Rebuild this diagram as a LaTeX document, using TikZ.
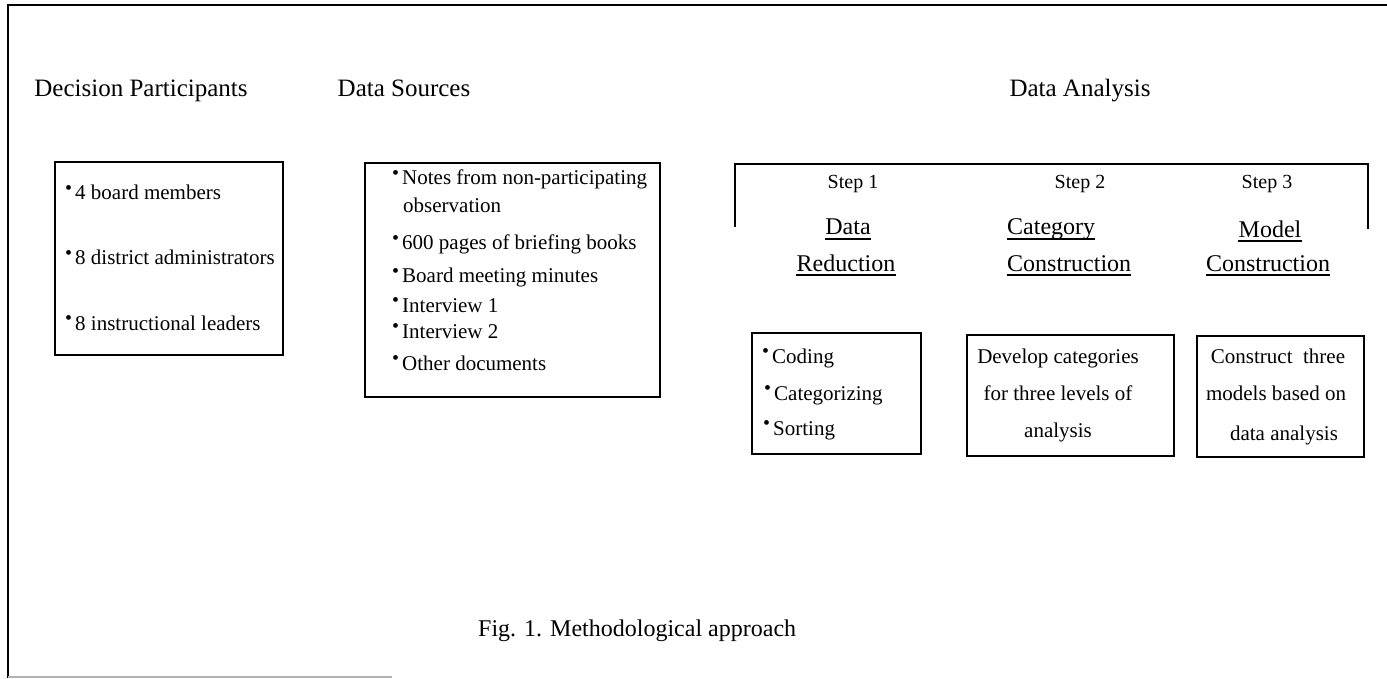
\documentclass[tikz,border=0pt]{standalone}
\usepackage{fontspec}
\setmainfont{Liberation Serif}
\newcommand{\headfont}{\fontsize{25}{30}\selectfont}
\newcommand{\itemfont}{\fontsize{21}{25}\selectfont}
\newcommand{\stepfont}{\fontsize{20}{24}\selectfont}
\newcommand{\titlefont}{\fontsize{24}{28}\selectfont}
\newcommand{\capfont}{\fontsize{24}{28}\selectfont}
\newcommand{\bul}{\raisebox{0.28em}{\scalebox{0.95}{\textbullet}}\hspace{3pt}}
\tikzset{
  frame/.style={line width=1.6pt, line cap=rect},
  panel/.style={draw, line width=1.5pt, inner sep=0, minimum width=#1},
  panel/.default=100pt,
  txt/.style={inner sep=0, font=\itemfont, anchor=base west},
  ctxt/.style={inner sep=0, font=\itemfont, anchor=base},
  head/.style={inner sep=0, font=\headfont, anchor=base},
  steplbl/.style={inner sep=0, font=\stepfont, anchor=base},
  title/.style={inner sep=0, font=\titlefont, anchor=base},
  uline/.style={line width=1.4pt},
}
\begin{document}
\begin{tikzpicture}[x=1pt, y=-1pt]
\useasboundingbox (0,0) rectangle (1387,679);
\fill[white] (0,0) rectangle (1387,679);

% page frame
\coordinate (ftr) at (1387,5);
\coordinate (ftl) at (8,5);
\coordinate (fbl) at (8,677);
\coordinate (fbr) at (392,677);
\draw[frame] (ftr) -- (ftl) -- (fbl);
\draw[gray!60, line width=1.2pt] (fbl) -- (fbr);

% column headings
\node[head] (hdp) at (141,97) {Decision Participants};
\node[head] (hds) at (404,97) {Data Sources};
\node[head] (hda) at (1080,97) {Data Analysis};

% participants
\node[panel=228pt, minimum height=193pt] (bdp) at (169,258.5) {};
\node[txt] (p1) at (65,200) {\bul 4 board members};
\node[txt] (p2) at (65,265) {\bul 8 district administrators};
\node[txt] (p3) at (65,330) {\bul 8 instructional leaders};

% sources
\node[panel=295pt, minimum height=234pt] (bds) at (512.5,280) {};
\node[txt] (s1) at (392,185) {\bul Notes from non-participating};
\node[txt] (s1b) at (403,213) {observation};
\node[txt] (s2) at (392,250) {\bul 600 pages of briefing books};
\node[txt] (s3) at (392,283) {\bul Board meeting minutes};
\node[txt] (s4) at (392,312) {\bul Interview 1};
\node[txt] (s5) at (392,338) {\bul Interview 2};
\node[txt] (s6) at (392,370) {\bul Other documents};

% analysis bracket
\coordinate (bl) at (735,226);
\coordinate (tl) at (735,164);
\coordinate (tr) at (1368,164);
\coordinate (br) at (1368,228);
\draw[frame] (bl) -- (tl) -- (tr) -- (br);

\node[steplbl] (st1) at (853,189) {Step 1};
\node[steplbl] (st2) at (1080,189) {Step 2};
\node[steplbl] (st3) at (1267,189) {Step 3};

\node[title] (t1a) at (848,235) {Data};
\node[title] (t1b) at (846,271) {Reduction};
\node[title, anchor=base west] (t2a) at (1007,235) {Category};
\node[title, anchor=base west] (t2b) at (1007,271) {Construction};
\node[title] (t3a) at (1270,237) {Model};
\node[title] (t3b) at (1268,271) {Construction};
\foreach \t in {t1a,t1b,t2a,t2b,t3a,t3b}
  \draw[uline] ([yshift=-4pt]\t.base west) -- ([yshift=-4pt]\t.base east);

% step boxes
\node[panel=169pt, minimum height=121pt] (ba) at (836.5,393.5) {};
\node[txt] (a1) at (762,363) {\bul Coding};
\node[txt] (a2) at (764,400) {\bul Categorizing};
\node[txt] (a3) at (763,435) {\bul Sorting};

\node[panel=207pt, minimum height=121pt] (bb) at (1070.5,395.5) {};
\node[ctxt] (b1) at (1058,363) {Develop categories};
\node[ctxt] (b2) at (1058,400) {for three levels of};
\node[ctxt] (b3) at (1058,437) {analysis};

\node[panel=167pt, minimum height=121pt] (bc) at (1280.5,396.5) {};
\node[ctxt] (c1) at (1278,363) {Construct\ \ three};
\node[ctxt] (c2) at (1276,400) {models based on};
\node[ctxt] (c3) at (1284,440) {data analysis};

% caption
\node[inner sep=0, font=\capfont, anchor=base west] (cap) at (478,636) {Fig. 1. Methodological approach};
\end{tikzpicture}
\end{document}
